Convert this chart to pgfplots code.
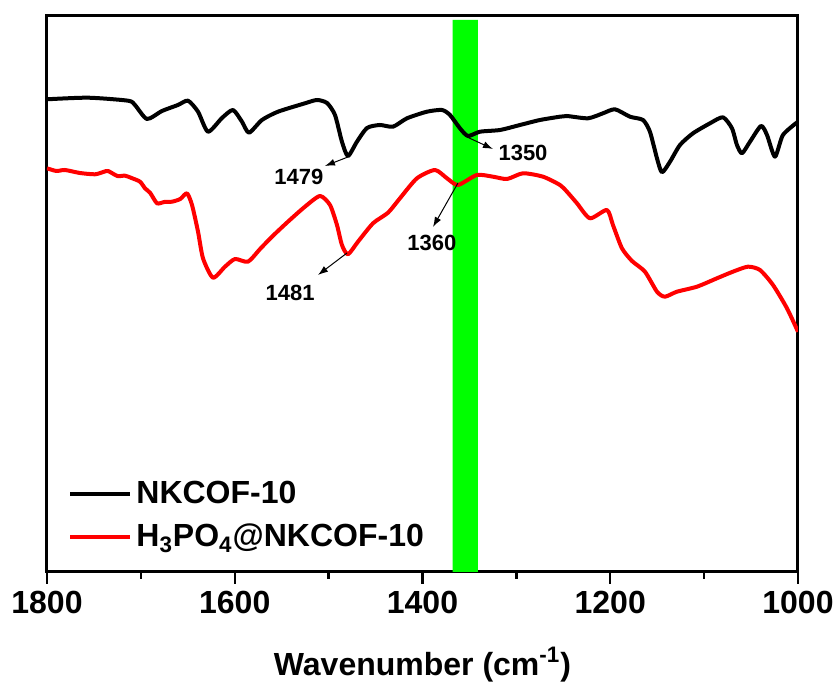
\documentclass[border=0pt]{standalone}
\usepackage{pgfplots}
\pgfplotsset{compat=1.18}
\usepackage{fontspec}
\setmainfont{Liberation Sans}
\usetikzlibrary{arrows.meta}
\definecolor{bandgreen}{RGB}{0,255,0}
\definecolor{curvered}{RGB}{255,0,0}

\pgfplotstableread{
x y
1800 472.7
1756.3 474.3
1713.7 471.3
1706.3 467
1693.5 453
1677.5 461
1660.5 467
1649.8 471.3
1639.1 460.3
1628.5 440.3
1613.6 454
1601.9 462
1592.3 450.3
1584.8 439.3
1571 452
1553.9 460.3
1525.2 468.7
1512.4 472
1501.7 469
1493.2 457
1485.8 430.3
1479.4 416
1469.8 430.3
1459.1 444
1445.3 447
1431.4 445.3
1416.5 453.7
1395.2 460.3
1379.2 462
1370.7 457
1360.1 443.7
1351.5 436
1338.7 440.3
1317.4 442
1296.1 447
1274.8 452
1253.5 455.3
1246.1 456
1223.7 453.7
1207.7 458.7
1194.9 462.7
1179 455.3
1165.1 452
1157.7 440.3
1150.2 413.7
1144.9 399.7
1136.3 410.3
1125.7 427
1111.8 438.7
1093.7 448.7
1079.9 454.7
1070.3 443.7
1065 427
1059.6 418.7
1051.1 430.3
1039.4 446
1033 437
1024.5 415.3
1016 437
1000 450.3
}\blacktab

\pgfplotstableread{
x y
1800 403.7
1790 401
1780.8 402
1765 399
1748.9 397.7
1740 400
1735.0 401
1725 396
1716.9 396.3
1710 394
1700.9 390.3
1695.6 383.7
1690 379
1682.8 368.7
1675 370
1666.8 370.3
1658 373
1650.9 378.7
1645.5 367
1639.1 340.3
1633.8 313.7
1623.2 294.3
1610.4 305.3
1599.7 313
1585.9 310.3
1573 323
1560.3 335.3
1543.3 350.3
1525.2 365.3
1509.2 376
1498.5 367
1491.1 347
1485.8 327
1479.4 317.7
1468.7 330.3
1452.7 348.7
1436.7 359.3
1424.0 373.7
1405.9 393.7
1386.7 402
1373.9 393.7
1362.2 387
1342.0 397
1324.9 395.3
1309.9 393
1292.9 398.7
1271.6 395.3
1253.5 387
1246.1 380.3
1235.4 368.7
1221.6 353.7
1203.5 362
1197.1 347
1187.5 323.7
1176.8 311
1163.0 300.3
1150.2 280.3
1141.8 275.3
1128.9 280.3
1107.6 285.3
1086.3 293.7
1069.3 300.3
1053.3 305.3
1040.5 302
1026.6 287
1011.7 263.7
1000 240.3
}\redtab

\begin{document}
\begin{tikzpicture}
\path[use as bounding box] (-23.5pt,-58.5pt) rectangle (395pt,286pt);
\begin{axis}[
  scale only axis,
  width=375.5pt, height=278pt,
  at={(0,0)}, anchor=south west,
  xmin=1000, xmax=1800, x dir=reverse,
  ymin=0, ymax=556,
  xtick={1000,1200,1400,1600,1800},
  minor xtick={1100,1300,1500,1700},
  ytick=\empty,
  xtick pos=bottom,
  tick align=outside,
  major tick length=6pt,
  minor tick length=3.5pt,
  every tick/.style={black, line width=1.2pt},
  axis line style={line width=1.5pt},
  tick label style={font=\fontsize{16}{19}\selectfont\bfseries},
  /pgf/number format/assume math mode=true,
  /pgf/number format/1000 sep={},
  xlabel={Wavenumber (cm\textsuperscript{-1})},
  xlabel style={font=\fontsize{16}{19}\selectfont\bfseries, at={(axis description cs:0.5,-0.167)}, anchor=center},
  legend style={draw=none, fill=none, at={(axis description cs:0.02,0.179)}, anchor=north west,
    font=\fontsize{16}{19}\selectfont\bfseries, row sep=5pt},
  legend cell align=left,
  legend image code/.code={\draw[#1] (0pt,0pt) -- (30pt,0pt);},
]
\addplot[fill=bandgreen, draw=none, forget plot] coordinates {(1368,0) (1368,552) (1341,552) (1341,0)} \closedcycle;
\addplot[black, line width=2pt, smooth, tension=0.4, line join=round] table[x=x,y=y] {\blacktab};
\addlegendentry{NKCOF-10}
\addplot[curvered, line width=2pt, smooth, tension=0.4, line join=round] table[x=x,y=y] {\redtab};
\addlegendentry{H\textsubscript{3}PO\textsubscript{4}@NKCOF-10}

\draw[line width=0.5pt, -{Latex[length=5pt,width=3.5pt]}] (axis cs:1479.4,415) -- (axis cs:1503.9,406);
\node[font=\fontsize{11}{13}\selectfont\bfseries] at (axis cs:1531.6,395) {1479};
\draw[line width=0.5pt, -{Latex[length=5pt,width=3.5pt]}] (axis cs:1480.4,319) -- (axis cs:1511.3,297);
\node[font=\fontsize{11}{13}\selectfont\bfseries] at (axis cs:1541.1,279) {1481};
\draw[line width=0.5pt, -{Latex[length=5pt,width=3.5pt]}] (axis cs:1362.2,389) -- (axis cs:1388.8,345);
\node[font=\fontsize{11}{13}\selectfont\bfseries] at (axis cs:1389.9,329) {1360};
\draw[line width=0.5pt, -{Latex[length=5pt,width=3.5pt]}] (axis cs:1352.6,435) -- (axis cs:1324.9,423);
\node[font=\fontsize{11}{13}\selectfont\bfseries] at (axis cs:1292.9,419) {1350};
\end{axis}
\end{tikzpicture}
\end{document}
